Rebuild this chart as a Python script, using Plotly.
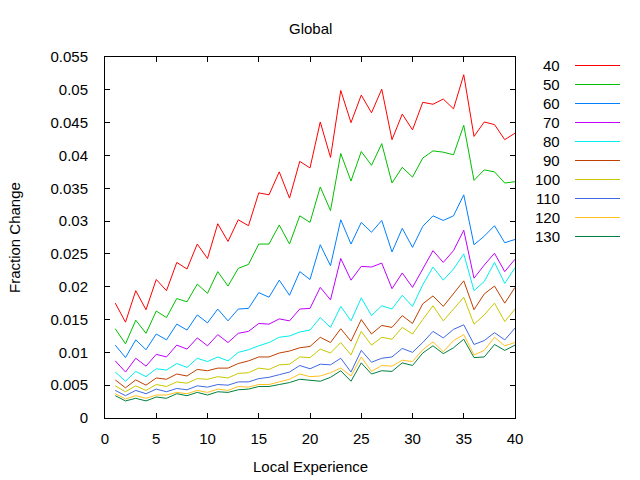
import plotly.graph_objects as go

x = list(range(1, 41))

s40 = [0.0175, 0.0146, 0.0194, 0.0165, 0.0211, 0.0194, 0.0237, 0.0227, 0.0265, 0.0243,
       0.0296, 0.0269, 0.0302, 0.0293, 0.0343, 0.0340, 0.0375, 0.0335, 0.0391, 0.0381,
       0.0451, 0.0397, 0.0499, 0.0450, 0.0492, 0.0465, 0.0501, 0.0424, 0.0463, 0.0439,
       0.0481, 0.0478, 0.0486, 0.0471, 0.0523, 0.0429, 0.0451, 0.0447, 0.0424, 0.0434]
s50 = [0.0136, 0.0113, 0.0149, 0.0129, 0.0163, 0.0153, 0.0182, 0.0177, 0.0204, 0.0190,
       0.0223, 0.0201, 0.0228, 0.0234, 0.0265, 0.0265, 0.0294, 0.0265, 0.0308, 0.0298,
       0.0352, 0.0316, 0.0403, 0.0361, 0.0406, 0.0385, 0.0418, 0.0358, 0.0382, 0.0367,
       0.0396, 0.0407, 0.0405, 0.0401, 0.0446, 0.0362, 0.0378, 0.0375, 0.0358, 0.0360]
s60 = [0.0111, 0.0092, 0.0119, 0.0104, 0.0128, 0.0119, 0.0143, 0.0134, 0.0157, 0.0145,
       0.0166, 0.0148, 0.0166, 0.0167, 0.0191, 0.0184, 0.0210, 0.0187, 0.0223, 0.0211,
       0.0264, 0.0232, 0.0302, 0.0265, 0.0298, 0.0283, 0.0301, 0.0253, 0.0289, 0.0260,
       0.0292, 0.0308, 0.0301, 0.0308, 0.0340, 0.0264, 0.0277, 0.0293, 0.0267, 0.0272]
s70 = [0.0087, 0.0070, 0.0091, 0.0079, 0.0097, 0.0093, 0.0111, 0.0105, 0.0122, 0.0110,
       0.0127, 0.0115, 0.0129, 0.0132, 0.0144, 0.0143, 0.0151, 0.0148, 0.0166, 0.0167,
       0.0199, 0.0180, 0.0243, 0.0210, 0.0231, 0.0230, 0.0236, 0.0197, 0.0221, 0.0199,
       0.0227, 0.0255, 0.0237, 0.0255, 0.0286, 0.0213, 0.0233, 0.0251, 0.0223, 0.0242]
s80 = [0.0070, 0.0056, 0.0071, 0.0063, 0.0075, 0.0073, 0.0083, 0.0077, 0.0091, 0.0086,
       0.0093, 0.0087, 0.0100, 0.0104, 0.0110, 0.0115, 0.0123, 0.0125, 0.0131, 0.0134,
       0.0153, 0.0138, 0.0170, 0.0148, 0.0183, 0.0156, 0.0171, 0.0166, 0.0187, 0.0170,
       0.0203, 0.0230, 0.0210, 0.0227, 0.0250, 0.0194, 0.0208, 0.0237, 0.0205, 0.0229]
s90 = [0.0058, 0.0046, 0.0058, 0.0050, 0.0061, 0.0059, 0.0067, 0.0064, 0.0074, 0.0072,
       0.0076, 0.0076, 0.0083, 0.0087, 0.0093, 0.0093, 0.0099, 0.0102, 0.0107, 0.0109,
       0.0123, 0.0115, 0.0136, 0.0117, 0.0150, 0.0128, 0.0141, 0.0138, 0.0156, 0.0144,
       0.0174, 0.0186, 0.0170, 0.0189, 0.0209, 0.0165, 0.0189, 0.0201, 0.0175, 0.0199]
s100 = [0.0049, 0.0040, 0.0049, 0.0042, 0.0051, 0.0048, 0.0055, 0.0053, 0.0060, 0.0059,
        0.0063, 0.0061, 0.0068, 0.0069, 0.0076, 0.0074, 0.0081, 0.0082, 0.0093, 0.0092,
        0.0105, 0.0099, 0.0115, 0.0096, 0.0132, 0.0111, 0.0123, 0.0120, 0.0138, 0.0128,
        0.0150, 0.0171, 0.0148, 0.0166, 0.0184, 0.0143, 0.0157, 0.0175, 0.0147, 0.0166]
s110 = [0.0042, 0.0034, 0.0042, 0.0037, 0.0044, 0.0040, 0.0045, 0.0043, 0.0049, 0.0047,
        0.0051, 0.0050, 0.0055, 0.0055, 0.0060, 0.0062, 0.0066, 0.0070, 0.0080, 0.0075,
        0.0082, 0.0081, 0.0091, 0.0070, 0.0103, 0.0085, 0.0091, 0.0093, 0.0106, 0.0100,
        0.0115, 0.0132, 0.0122, 0.0135, 0.0142, 0.0112, 0.0118, 0.0130, 0.0119, 0.0137]
s120 = [0.0037, 0.0029, 0.0034, 0.0030, 0.0035, 0.0035, 0.0039, 0.0037, 0.0042, 0.0039,
        0.0044, 0.0042, 0.0048, 0.0047, 0.0051, 0.0051, 0.0055, 0.0059, 0.0067, 0.0063,
        0.0064, 0.0069, 0.0076, 0.0064, 0.0093, 0.0071, 0.0080, 0.0079, 0.0088, 0.0086,
        0.0104, 0.0116, 0.0101, 0.0118, 0.0127, 0.0096, 0.0103, 0.0123, 0.0110, 0.0115]
s130 = [0.0034, 0.0026, 0.0030, 0.0026, 0.0032, 0.0030, 0.0037, 0.0034, 0.0039, 0.0035,
        0.0040, 0.0039, 0.0043, 0.0044, 0.0048, 0.0048, 0.0051, 0.0054, 0.0059, 0.0058,
        0.0056, 0.0062, 0.0072, 0.0056, 0.0084, 0.0067, 0.0072, 0.0071, 0.0084, 0.0080,
        0.0099, 0.0110, 0.0098, 0.0107, 0.0120, 0.0092, 0.0093, 0.0112, 0.0103, 0.0111]

names = ["40", "50", "60", "70", "80", "90", "100", "110", "120", "130"]
series = [s40, s50, s60, s70, s80, s90, s100, s110, s120, s130]
colors = ["#ff0000", "#00c000", "#0080ff", "#c000ff", "#00eeee",
          "#c04000", "#c8c800", "#4169e1", "#ffc020", "#008040"]

yticks = [0, 0.005, 0.01, 0.015, 0.02, 0.025, 0.03, 0.035, 0.04, 0.045, 0.05, 0.055]
yticklabels = ["0", "0.005", "0.01", "0.015", "0.02", "0.025", "0.03", "0.035",
               "0.04", "0.045", "0.05", "0.055"]
xticks = [0, 5, 10, 15, 20, 25, 30, 35, 40]

FONT = "Liberation Sans, Arial, sans-serif"
FS = 15

fig = go.Figure()
for n, s, c in zip(names, series, colors):
    fig.add_trace(go.Scatter(x=x, y=s, mode="lines", name=n,
                             line=dict(color=c, width=1), showlegend=False))

# gnuplot-style key: label on the left, line sample on the right
L, R, T, B = 105, 515, 57, 418
W, H = R - L, B - T
for i, (n, c) in enumerate(zip(names, colors)):
    py = 65.5 + 19 * i
    fig.add_annotation(x=(562 - L) / W, y=(B - py) / H, xref="paper", yref="paper",
                       text=n, showarrow=False, xanchor="right", yanchor="middle",
                       font=dict(family=FONT, size=FS, color="black"))
    fig.add_shape(type="line", xref="paper", yref="paper",
                  x0=(575 - L) / W, x1=(620 - L) / W,
                  y0=(B - py) / H, y1=(B - py) / H,
                  line=dict(color=c, width=1.2))

fig.add_annotation(x=0.5, y=(B - 28.5) / H, xref="paper", yref="paper", text="Global",
                   showarrow=False, xanchor="center", yanchor="middle",
                   font=dict(family=FONT, size=FS, color="black"))
fig.add_annotation(x=0.5, y=(B - 466) / H, xref="paper", yref="paper",
                   text="Local Experience", showarrow=False, xanchor="center",
                   yanchor="middle", font=dict(family=FONT, size=FS, color="black"))
fig.add_annotation(x=(14 - L) / W, y=(B - 238) / H, xref="paper", yref="paper",
                   text="Fraction Change", showarrow=False, textangle=-90,
                   xanchor="center", yanchor="middle",
                   font=dict(family=FONT, size=FS, color="black"))

axis_common = dict(showgrid=False, zeroline=False, showline=True, linecolor="black",
                   linewidth=1, mirror="ticks", ticks="inside", ticklen=5,
                   tickcolor="black", tickfont=dict(family=FONT, size=FS, color="black"))

fig.update_layout(
    width=640, height=480,
    margin=dict(l=L, r=640 - R, t=T, b=480 - B),
    paper_bgcolor="white", plot_bgcolor="white",
    xaxis=dict(range=[0, 40], tickvals=xticks, ticklabelstandoff=7, **axis_common),
    yaxis=dict(range=[0, 0.055], tickvals=yticks, ticktext=yticklabels,
               ticklabelstandoff=13, **axis_common),
)

fig.write_html("out.html")
